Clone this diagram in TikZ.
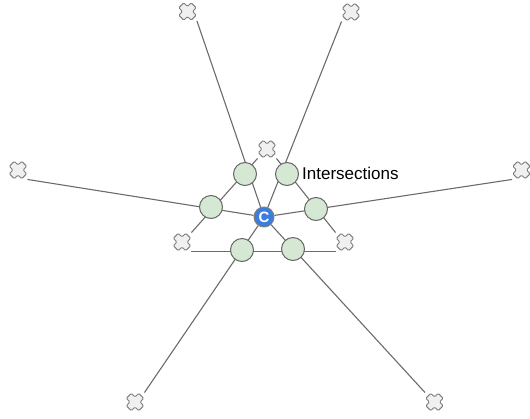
\documentclass[tikz,border=0pt]{standalone}
\usepackage{fontspec}
\setmainfont{Liberation Sans}
\usetikzlibrary{backgrounds}
\definecolor{hitfill}{HTML}{D5E8D4}
\definecolor{ctrfill}{HTML}{3B7DDD}
\definecolor{markfill}{HTML}{F0F0F0}
\begin{document}
\begin{tikzpicture}[x=1pt, y=-1pt, line join=round, line cap=round,
	link/.style={draw=black!58, line width=1.1pt},
	xmark/.style={minimum size=18.5pt, inner sep=0pt, path picture={
		\begin{scope}[shift={(path picture bounding box.center)}]
		\filldraw[fill=markfill, draw=black!50, line width=1pt, rounded corners=1.2pt]
		(0,\xc) -- (\xa,\xb) -- (\xb,\xa) -- (\xc,0) -- (\xb,-\xa) -- (\xa,-\xb) -- (0,-\xc)
		-- (-\xa,-\xb) -- (-\xb,-\xa) -- (-\xc,0) -- (-\xb,\xa) -- (-\xa,\xb) -- cycle;
		\end{scope}}},
	hit/.style={circle, draw=black!60, fill=hitfill, line width=1pt, minimum size=23pt, inner sep=0pt},
	ctr/.style={circle, draw=black!50, fill=ctrfill, line width=1pt, minimum size=20pt, inner sep=0pt,
		text=white, font=\bfseries\fontsize{15}{15}\selectfont}]
	\def\xa{3.7} \def\xb{8.7} \def\xc{5.0}
	\useasboundingbox (0,0) rectangle (530,418);
	\foreach \x/\y/\n in {187.5/11.5/xnw, 351/12/xne, 18/170/xw, 521.5/170/xe, 135/402/xsw, 434.5/402/xse,
		267/149/vtop, 182/242/vleft, 345/242/vright}
		\node[xmark] (\n) at (\x,\y) {};
	\foreach \x/\y/\n in {245/174/i1, 287/174/i2, 211/207/i3, 316/209/i4, 242/250/i5, 293/249/i6}
		\node[hit] (\n) at (\x,\y) {};
	\node[ctr] (c) at (264,217) {C};
	\node[anchor=west, inner sep=0pt, font=\fontsize{17}{17}\selectfont] (lbl) at (302,173) {Intersections};
	\begin{scope}[on background layer]
	\draw[link] (vtop.south west) -- (vleft.north east);
	\draw[link] (vtop.south east) -- (vright.north west);
	\draw[link] (vleft.south east) -- (vright.south west);
	\draw[link] (c) -- (xnw.south east);
	\draw[link] (c) -- (xne.south west);
	\draw[link] (c) -- (xw.south east);
	\draw[link] (c) -- (xe.south west);
	\draw[link] (c) -- (xsw.north east);
	\draw[link] (c) -- (xse.north west);
	\end{scope}
\end{tikzpicture}
\end{document}
